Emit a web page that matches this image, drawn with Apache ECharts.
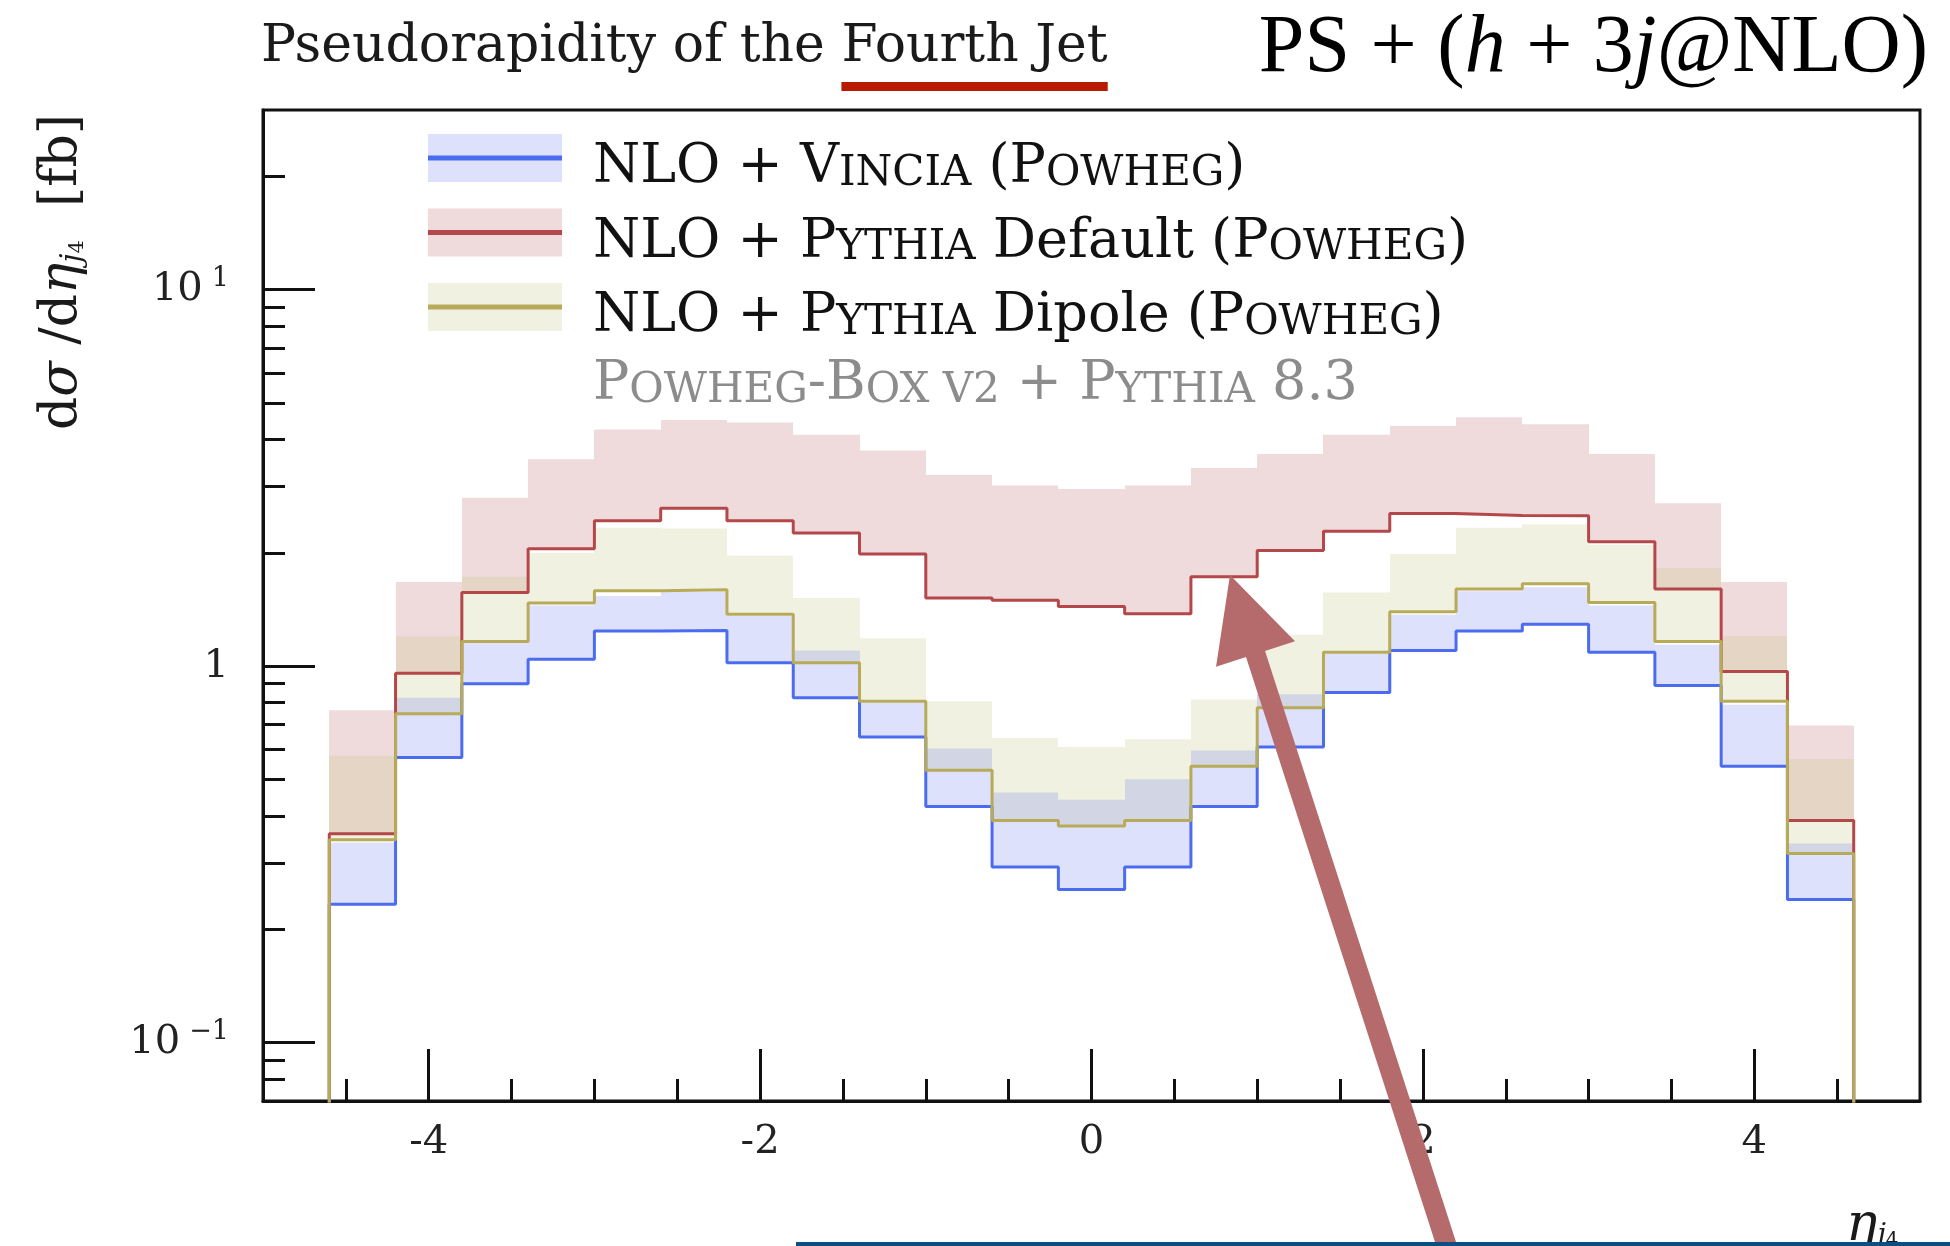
<!DOCTYPE html>
<html>
<head>
<meta charset="utf-8">
<title>Pseudorapidity of the Fourth Jet</title>
<script src="https://cdn.jsdelivr.net/npm/echarts@6/dist/echarts.min.js"></script>
<style>
  html, body { margin: 0; padding: 0; background: #fff; }
  #chart { width: 1950px; height: 1246px; }
</style>
</head>
<body>
<div id="chart"></div>
<script>
// eta_j4 histogram, 23 bins of width 0.4
const binEdges = [-4.6, -4.2, -3.8, -3.4, -3.0, -2.6, -2.2, -1.8, -1.4, -1.0, -0.6, -0.2,
                  0.2, 0.6, 1.0, 1.4, 1.8, 2.2, 2.6, 3.0, 3.4, 3.8, 4.2, 4.6];

// central value and top of the scale band per bin [fb]
const vinciaCentral  = [0.233, 0.572, 0.898, 1.043, 1.239, 1.243, 1.021, 0.824, 0.648, 0.424, 0.293, 0.255,
                        0.293, 0.424, 0.61, 0.851, 1.101, 1.239, 1.293, 1.089, 0.888, 0.542, 0.240];
const vinciaUpper    = [0.34, 0.824, 1.16, 1.45, 1.535, 1.575, 1.36, 1.101, 0.80, 0.604, 0.462, 0.442,
                        0.501, 0.597, 0.842, 1.08, 1.37, 1.58, 1.62, 1.45, 1.14, 0.79, 0.338];
const defaultCentral = [0.359, 0.957, 1.569, 2.05, 2.434, 2.625, 2.434, 2.258, 1.986, 1.518, 1.496, 1.44,
                        1.377, 1.727, 2.029, 2.283, 2.542, 2.514, 2.51, 2.14, 1.602, 0.968, 0.389];
const defaultUpper   = [0.764, 1.673, 2.80, 3.544, 4.253, 4.507, 4.44, 4.12, 3.738, 3.217, 3.018, 2.953,
                        3.018, 3.358, 3.659, 4.12, 4.345, 4.585, 4.39, 3.659, 2.71, 1.673, 0.696];
const dipoleCentral  = [0.346, 0.748, 1.162, 1.471, 1.585, 1.595, 1.373, 1.021, 0.807, 0.529, 0.389, 0.3765,
                        0.389, 0.542, 0.776, 1.089, 1.394, 1.602, 1.655, 1.477, 1.162, 0.807, 0.318];
const dipoleUpper    = [0.578, 1.199, 1.727, 2.0, 2.332, 2.32, 1.964, 1.518, 1.187, 0.807, 0.644, 0.61,
                        0.64, 0.815, 1.212, 1.569, 1.986, 2.332, 2.383, 2.1, 1.822, 1.2, 0.567];

const xMajorTicks = [-4, -2, 0, 2, 4];
const xMinorTicks = [-4.5, -3.5, -3, -2.5, -1.5, -1, -0.5, 0.5, 1, 1.5, 2.5, 3, 3.5, 4.5];
const yMajorTicks = [0.1, 1, 10];
const yMinorTicks = [0.08, 0.09, 0.2, 0.3, 0.4, 0.5, 0.6, 0.7, 0.8, 0.9,
                     2, 3, 4, 5, 6, 7, 8, 9, 20];

const seriesNames = ['NLO + Vincia (Powheg)', 'NLO + Pythia Default (Powheg)', 'NLO + Pythia Dipole (Powheg)'];
const bandNames = ['Vincia band', 'Default band', 'Dipole band'];

const SERIF = '"DejaVu Serif", "Liberation Serif", serif';
const TIMES = '"Liberation Serif", serif';
const FLOOR = 0.001; // empty region outside the histogram, below the log axis

const lineColors = ['#4c6cf0', '#b4474a', '#b7aa58'];
const bandColors = ['rgba(100,120,240,0.22)', 'rgba(180,85,90,0.21)', 'rgba(190,190,120,0.22)'];

// small caps faked with rich text
const legendLabels = {
  'NLO + Vincia (Powheg)': '{n|NLO + V}{sc|INCIA}{n| (P}{sc|OWHEG}{n|)}',
  'NLO + Pythia Default (Powheg)': '{n|NLO + P}{sc|YTHIA}{n| Default (P}{sc|OWHEG}{n|)}',
  'NLO + Pythia Dipole (Powheg)': '{n|NLO + P}{sc|YTHIA}{n| Dipole (P}{sc|OWHEG}{n|)}'
};

// legend rows are 74.5px apart; both icons span the full row height
// (tiny corner specks fix the icon box) so the two legends line up
const ROW_H = 74.5;
const speck = 'M0,0L0.01,0L0,0.01Z M0,' + ROW_H + 'L0.01,' + ROW_H + 'L0,' + (ROW_H - 0.01) + 'Z ';
const bandIcon = 'path://' + speck + 'M0,13.25H134V61.25H0Z';
const lineIcon = 'path://' + speck + 'M0,34.75H134V39.75H0Z';

function histOutline(values) {
  const pts = [[binEdges[0], FLOOR]];
  values.forEach((v, i) => pts.push([binEdges[i], v]));
  pts.push([binEdges[values.length], values[values.length - 1]]);
  pts.push([binEdges[values.length], FLOOR]);
  return pts;
}
function bandSeries(name, central, upper, color) {
  return {
    name: name, type: 'custom', silent: true, z: 1, color: color, clip: true,
    encode: { x: [0, 1], y: [2, 3] },
    data: central.map((c, i) => [binEdges[i], binEdges[i + 1], c, upper[i]]),
    renderItem: (params, api) => {
      const p0 = api.coord([api.value(0), api.value(3)]);
      const p1 = api.coord([api.value(1), api.value(2)]);
      const x0 = Math.round(p0[0]), x1 = Math.round(p1[0]);
      return { type: 'rect', shape: { x: x0, y: p0[1], width: x1 - x0, height: p1[1] - p0[1] },
               style: { fill: color } };
    }
  };
}
function lineSeries(name, central, color) {
  return { name: name, type: 'line', step: 'end', symbol: 'none', silent: true, color: color,
           lineStyle: { width: 3, color: color }, data: histOutline(central), z: 3 };
}

function arrowPoints(tip, tail, shaftW, headL, headW) {
  const dx = tail[0] - tip[0], dy = tail[1] - tip[1];
  const len = Math.hypot(dx, dy);
  const ux = dx / len, uy = dy / len, px = -uy, py = ux;
  const bx = tip[0] + ux * headL, by = tip[1] + uy * headL;
  return [
    tip,
    [bx + px * headW / 2, by + py * headW / 2],
    [bx + px * shaftW / 2, by + py * shaftW / 2],
    [tail[0] + px * shaftW / 2, tail[1] + py * shaftW / 2],
    [tail[0] - px * shaftW / 2, tail[1] - py * shaftW / 2],
    [bx - px * shaftW / 2, by - py * shaftW / 2],
    [bx - px * headW / 2, by - py * headW / 2]
  ];
}

// measure the title so the red underline sits under "Fourth Jet"
const TITLE_SIZE = 52, TITLE_LEFT = 261;
const measureCtx = document.createElement('canvas').getContext('2d');
measureCtx.font = TITLE_SIZE + 'px ' + SERIF;
const preW = measureCtx.measureText('Pseudorapidity of the ').width;
const jetW = measureCtx.measureText('Fourth Jet').width;

const chart = echarts.init(document.getElementById('chart'));

const tickLine = { width: 3, color: '#111' };
const legendText = {
  n: { fontFamily: SERIF, fontSize: 54, lineHeight: 60, color: '#111', verticalAlign: 'bottom' },
  sc: { fontFamily: SERIF, fontSize: 42, lineHeight: 60, color: '#111', verticalAlign: 'bottom' }
};
const legendBase = { orient: 'vertical', left: 428, top: 158 - ROW_H / 2, padding: 0,
                     itemWidth: 134, itemHeight: ROW_H, itemGap: 0, selectedMode: false,
                     itemStyle: { borderWidth: 0 } };

const option = {
  animation: false,
  backgroundColor: '#fff',
  title: [
    { text: 'Pseudorapidity of the Fourth Jet', left: TITLE_LEFT, top: 16, padding: 0,
      textStyle: { fontFamily: SERIF, fontSize: TITLE_SIZE, fontWeight: 'normal', color: '#1a1a1a', lineHeight: 62 } },
    { text: '{r|PS + (}{i|h}{r| + 3}{i|j}{r|@NLO)}', right: 22, top: 4, padding: 0,
      textStyle: { fontWeight: 'normal', rich: {
        r: { fontFamily: TIMES, fontSize: 82, lineHeight: 90, color: '#000', fontWeight: 'normal' },
        i: { fontFamily: TIMES, fontSize: 82, lineHeight: 90, color: '#000', fontWeight: 'normal', fontStyle: 'italic' }
      } } }
  ],
  grid: { left: 263, right: 30, top: 110, bottom: 145, show: true,
          borderColor: '#111', borderWidth: 3, backgroundColor: 'transparent' },
  legend: [
    Object.assign({}, legendBase, { data: bandNames, icon: bandIcon, formatter: () => '', z: 4 }),
    Object.assign({}, legendBase, { data: seriesNames, icon: lineIcon, z: 5,
      formatter: n => legendLabels[n],
      textStyle: { padding: [14, 0, 0, 26], rich: legendText } })
  ],
  xAxis: [
    { type: 'value', min: -5, max: 5, position: 'bottom',
      axisLine: { show: true, onZero: false, lineStyle: tickLine },
      axisTick: { show: true, inside: true, length: 52, lineStyle: tickLine, customValues: xMajorTicks },
      axisLabel: { customValues: xMajorTicks, margin: 22, fontFamily: SERIF, fontSize: 40, color: '#222' },
      splitLine: { show: false } },
    { type: 'value', min: -5, max: 5, position: 'bottom',
      axisLine: { show: false, onZero: false },
      axisTick: { show: true, inside: true, length: 22, lineStyle: tickLine, customValues: xMinorTicks },
      axisLabel: { show: false }, splitLine: { show: false } }
  ],
  yAxis: [
    { type: 'log', logBase: 10, min: 0.07, max: 30, position: 'left',
      axisLine: { show: true, onZero: false, lineStyle: tickLine },
      axisTick: { show: true, inside: true, length: 52, lineStyle: tickLine, customValues: yMajorTicks },
      axisLabel: { customValues: yMajorTicks, margin: 34, fontFamily: SERIF, fontSize: 40, color: '#222',
        formatter: v => {
          const e = Math.round(Math.log10(v));
          return e === 0 ? '1' : '10{sup|' + (e < 0 ? '\u2212' : '') + Math.abs(e) + '}';
        },
        rich: { sup: { fontFamily: SERIF, fontSize: 27, lineHeight: 20, color: '#222', padding: [0, 0, 22, 9] } } },
      splitLine: { show: false } },
    { type: 'log', logBase: 10, min: 0.07, max: 30, position: 'left',
      axisLine: { show: false, onZero: false },
      axisTick: { show: true, inside: true, length: 22, lineStyle: tickLine, customValues: yMinorTicks },
      axisLabel: { show: false }, splitLine: { show: false } }
  ],
  series: [
    bandSeries(bandNames[1], defaultCentral, defaultUpper, bandColors[1]),
    bandSeries(bandNames[2], dipoleCentral, dipoleUpper, bandColors[2]),
    bandSeries(bandNames[0], vinciaCentral, vinciaUpper, bandColors[0]),
    lineSeries(seriesNames[0], vinciaCentral, lineColors[0]),
    lineSeries(seriesNames[1], defaultCentral, lineColors[1]),
    lineSeries(seriesNames[2], dipoleCentral, lineColors[2])
  ],
  graphic: [
    { type: 'rect', shape: { x: TITLE_LEFT + preW, y: 82, width: jetW, height: 9 },
      style: { fill: '#b81a00' } },
    { type: 'text', x: 593, y: 388,
      style: { text: '{g|P}{gs|OWHEG}{g|-B}{gs|OX V2}{g| + P}{gs|YTHIA}{g| 8.3}',
        verticalAlign: 'middle', align: 'left',
        rich: {
          g: { fontFamily: SERIF, fontSize: 54, lineHeight: 48, fill: '#8c8c8c', verticalAlign: 'bottom' },
          gs: { fontFamily: SERIF, fontSize: 42, lineHeight: 48, fill: '#8c8c8c', verticalAlign: 'bottom' }
        } } },
    { type: 'text', x: 62, y: 272, rotation: Math.PI / 2,
      style: { text: '{n|d}{i|\u03c3}{n| /d}{i|\u03b7}{s|j}{ss|4}{n|  [fb]}', align: 'center', verticalAlign: 'middle',
        rich: {
          n: { fontFamily: SERIF, fontSize: 52, lineHeight: 56, fill: '#1a1a1a' },
          i: { fontFamily: SERIF, fontSize: 52, lineHeight: 56, fill: '#1a1a1a', fontStyle: 'italic' },
          s: { fontFamily: SERIF, fontSize: 30, lineHeight: 32, fill: '#1a1a1a', fontStyle: 'italic', padding: [22, 0, 0, 0] },
          ss: { fontFamily: SERIF, fontSize: 21, lineHeight: 26, fill: '#1a1a1a', padding: [32, 0, 0, 0] }
        } } },
    { type: 'text', x: 1846, y: 1226,
      style: { text: '{i|\u03b7}{s|j}{ss|4}', align: 'left', verticalAlign: 'middle',
        rich: {
          i: { fontFamily: SERIF, fontSize: 52, lineHeight: 54, fill: '#1a1a1a', fontStyle: 'italic' },
          s: { fontFamily: SERIF, fontSize: 28, lineHeight: 30, fill: '#1a1a1a', fontStyle: 'italic', padding: [20, 0, 0, 0] },
          ss: { fontFamily: SERIF, fontSize: 20, lineHeight: 24, fill: '#1a1a1a', padding: [30, 0, 0, 0] }
        } } },
    { type: 'polygon', z: 100,
      shape: { points: arrowPoints([1230, 575], [1452, 1262], 20, 83, 83) },
      style: { fill: '#b56b6b' } },
    { type: 'rect', z: 101, shape: { x: 796, y: 1242, width: 1154, height: 4 },
      style: { fill: '#0d4f80' } }
  ]
};

chart.setOption(option);
</script>
</body>
</html>
